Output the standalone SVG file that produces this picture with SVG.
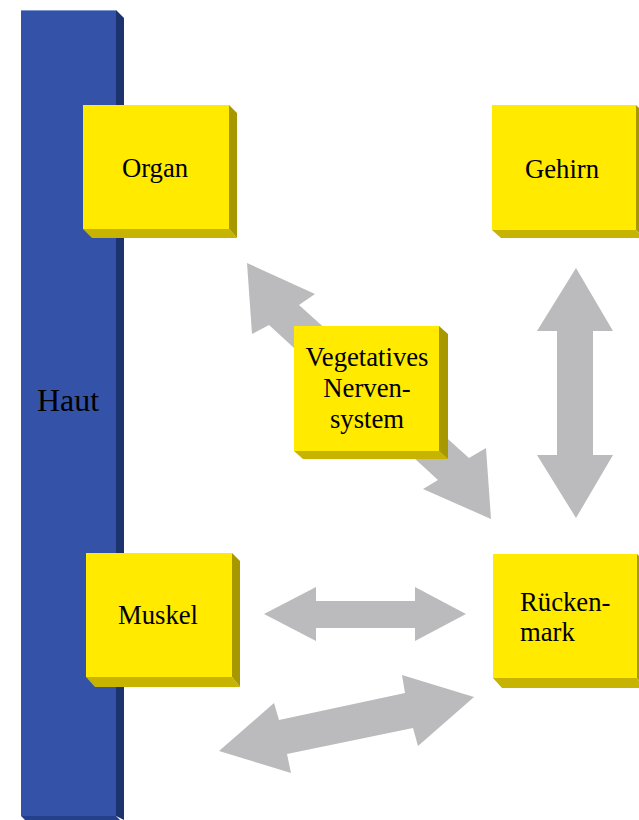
<svg xmlns="http://www.w3.org/2000/svg" width="639" height="820" viewBox="0 0 639 820">
<style>
.front{fill:#FFEA00}
.side{fill:#A89800}
.bottom{fill:#C7B400}
.bfront{fill:#3453A8}
.bside{fill:#1C3370}
.bbottom{fill:#24408A}
.arrow{fill:#BBBBBD}
.lbl{font-family:"Liberation Serif","Times New Roman",serif;font-size:26.7px;fill:#000}
</style>
<rect width="639" height="820" fill="#fff"/>
<g id="haut">
<polygon class="bside" points="116,10 124,18 124,820 116,816"/>
<polygon class="bbottom" points="21,816 116,816 124,824 29,824"/>
<rect class="bfront" x="21" y="10" width="95" height="806"/>
<line x1="21" y1="10.5" x2="116" y2="10.5" stroke="#7F95D0" stroke-width="1"/>
<text class="lbl" x="68" y="411" text-anchor="middle" style="font-size:32px">Haut</text>
</g>
<g id="connectors">
<polygon class="arrow" points="247,263 315,294 299,305 469,458 486,448 491,519 423,489 438,480 269,325 252,334"/>
<polygon class="arrow" points="576,268 613,331 593,331 593,455 613,455 576,518 537,455 557,455 557,331 537,331"/>
<polygon class="arrow" points="264,614 316,587 316,601 415,601 415,587 466,614 415,641 415,628 316,628 316,641"/>
<polygon class="arrow" points="219,751 274,703 279,720 405,693 402,675 474,697 418,746 413,728 287,754 291,773"/>
</g>
<g id="organ">
<polygon class="side" points="229,105 237,113 237,238 229,229"/>
<polygon class="bottom" points="83,229 229,229 237,238 92,238"/>
<rect class="front" x="83" y="105" width="146" height="124"/>
<text class="lbl" x="155" y="177" text-anchor="middle">Organ</text>
</g>
<g id="gehirn">
<polygon class="side" points="636,105 644,113 644,238 636,230"/>
<polygon class="bottom" points="492,230 636,230 644,238 501,238"/>
<rect class="front" x="492" y="105" width="144" height="125"/>
<text class="lbl" x="562" y="178" text-anchor="middle">Gehirn</text>
</g>
<g id="vegetatives">
<polygon class="side" points="439,326 448,334 448,459 439,451"/>
<polygon class="bottom" points="294,451 439,451 448,459 303,459"/>
<rect class="front" x="294" y="326" width="145" height="125"/>
<text class="lbl" text-anchor="middle"><tspan x="367" y="366">Vegetatives</tspan><tspan x="367" y="397">Nerven-</tspan><tspan x="367" y="428">system</tspan></text>
</g>
<g id="muskel">
<polygon class="side" points="232,553 240,561 240,687 232,677"/>
<polygon class="bottom" points="86,677 232,677 240,687 95,687"/>
<rect class="front" x="86" y="553" width="146" height="124"/>
<text class="lbl" x="158" y="624" text-anchor="middle">Muskel</text>
</g>
<g id="rueckenmark">
<polygon class="side" points="637,554 645,562 645,688 637,678"/>
<polygon class="bottom" points="493,678 637,678 645,688 502,688"/>
<rect class="front" x="493" y="554" width="144" height="124"/>
<text class="lbl"><tspan x="520" y="611">Rücken-</tspan><tspan x="520" y="641">mark</tspan></text>
</g>
</svg>
